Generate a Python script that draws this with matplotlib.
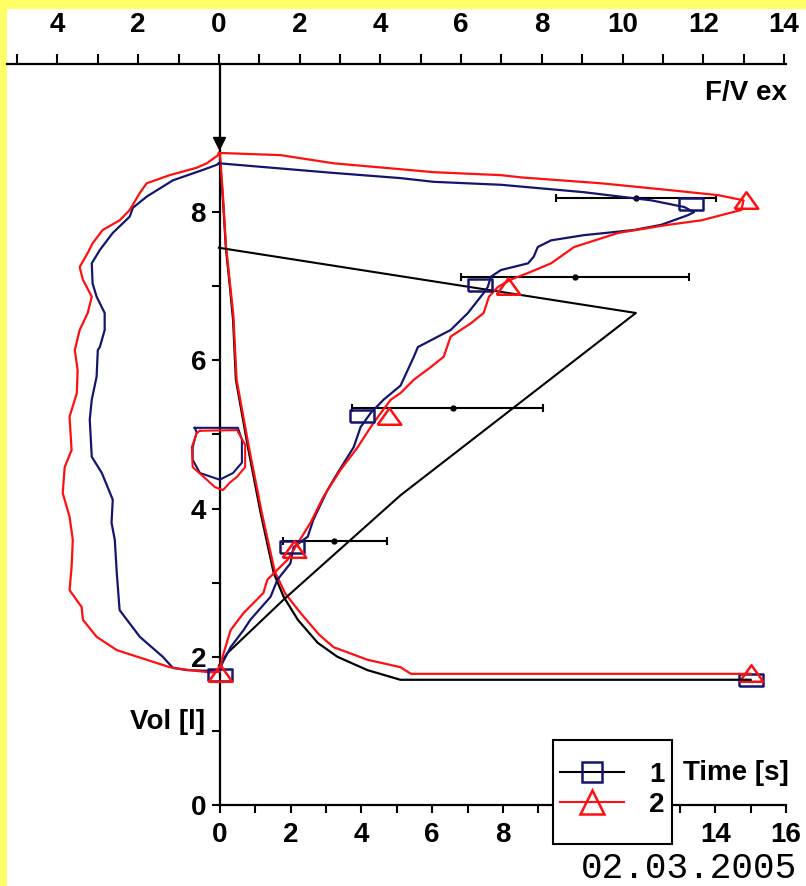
import numpy as np
import matplotlib
matplotlib.use('Agg')
import matplotlib.pyplot as plt
from matplotlib.lines import Line2D
from matplotlib.patches import Rectangle
from matplotlib.ticker import FixedLocator, FuncFormatter

# flow-volume loop, curve 1 (expiration then inspiration)
fv1_flow = [0.0, 2.84, 4.50, 5.32, 6.99, 9.04, 10.71, 11.53, 11.77, 11.62, 10.96, 10.29,
            9.04, 8.23, 7.90, 7.80, 7.66, 6.99, 6.74, 6.66, 6.56, 6.17, 5.74, 4.93, 4.83,
            4.50, 4.08, 3.76, 3.51, 3.34, 2.94, 2.69, 2.34, 2.20, 1.85, 1.77, 1.45, 1.28,
            0.78, 0.61, 0.29, 0.09, 0.0,
            -0.22, -0.79, -1.14, -1.39, -1.96, -2.46, -2.53, -2.58, -2.66, -2.63, -2.90,
            -3.15, -3.20, -3.15, -3.03, -3.00, -2.95, -2.83, -2.83, -3.03, -3.13, -3.15,
            -2.95, -2.63, -2.21, -2.13, -1.79, -1.14, -0.40, -0.05, 0.0]
fv1_vol = [8.66, 8.53, 8.46, 8.41, 8.37, 8.27, 8.16, 8.07, 8.00, 7.96, 7.83, 7.76,
           7.69, 7.62, 7.53, 7.40, 7.31, 7.22, 7.13, 6.99, 6.91, 6.64, 6.41, 6.18, 6.05,
           5.66, 5.47, 5.29, 5.10, 4.83, 4.48, 4.25, 3.85, 3.62, 3.48, 3.26, 3.04, 2.81,
           2.50, 2.36, 2.13, 1.92, 1.80,
           1.81, 1.82, 1.85, 2.00, 2.27, 2.63, 3.13, 3.58, 3.81, 4.12, 4.48,
           4.70, 5.20, 5.47, 5.78, 6.14, 6.18, 6.41, 6.64, 6.86, 7.04, 7.31,
           7.49, 7.72, 7.94, 8.06, 8.21, 8.43, 8.57, 8.64, 8.66]

# flow-volume loop, curve 2
fv2_flow = [0.0, 1.53, 2.84, 4.50, 5.32, 6.99, 7.48, 9.47, 11.13, 12.37, 13.0, 12.94,
            11.95, 11.13, 9.89, 8.80, 8.23, 7.66, 7.23, 6.91, 6.69, 6.56, 6.24, 5.74,
            5.57, 5.25, 4.83, 4.50, 4.26, 4.01, 3.76, 3.44, 3.01, 2.59, 2.27, 1.85, 1.70,
            1.20, 1.10, 0.61, 0.29, 0.09, 0.02,
            -0.22, -0.72, -1.22, -1.79, -2.53, -3.03, -3.37, -3.40, -3.70, -3.65, -3.62,
            -3.70, -3.87, -3.82, -3.65, -3.70, -3.52, -3.50, -3.57, -3.45, -3.25, -3.15,
            -3.37, -3.45, -3.25, -3.13, -2.88, -2.46, -2.21, -1.96, -1.79, -1.22, -0.55,
            -0.30, -0.02, 0.0]
fv2_vol = [8.80, 8.77, 8.66, 8.58, 8.54, 8.50, 8.47, 8.39, 8.30, 8.23, 8.16, 8.03,
           7.89, 7.83, 7.72, 7.53, 7.31, 7.18, 7.09, 6.99, 6.86, 6.64, 6.50, 6.32,
           6.05, 5.91, 5.74, 5.56, 5.47, 5.29, 5.10, 4.83, 4.52, 4.16, 3.81, 3.44, 3.31,
           3.04, 2.86, 2.59, 2.36, 2.00, 1.80,
           1.79, 1.82, 1.86, 1.96, 2.09, 2.27, 2.50, 2.67, 2.90, 3.21, 3.58,
           3.89, 4.21, 4.56, 4.79, 5.24, 5.56, 5.87, 6.14, 6.41, 6.64, 6.86,
           7.09, 7.26, 7.45, 7.58, 7.76, 7.89, 8.03, 8.26, 8.39, 8.50, 8.60,
           8.66, 8.77, 8.80]

# small tidal loops near zero flow
tid1_flow = [-0.60, 0.47, 0.57, 0.57, 0.35, 0.02, -0.47, -0.65, -0.65, -0.55, -0.60]
tid1_vol = [5.09, 5.09, 4.93, 4.62, 4.48, 4.39, 4.48, 4.66, 4.83, 5.03, 5.09]
tid2_flow = [-0.47, 0.45, 0.65, 0.65, 0.45, 0.27, 0.10, -0.10, -0.30, -0.65, -0.67, -0.55, -0.47]
tid2_vol = [5.05, 5.06, 4.86, 4.56, 4.43, 4.35, 4.25, 4.29, 4.39, 4.56, 4.83, 5.02, 5.05]

# volume-time curves
vt1_time = [0.0, 0.08, 0.17, 0.28, 0.37, 0.45, 0.79, 1.15, 1.52, 1.80, 2.20, 2.76, 3.32, 4.17, 5.10, 15.0]
vt1_vol = [8.70, 8.20, 7.50, 7.00, 6.55, 5.74, 4.83, 3.94, 3.13, 2.81, 2.50, 2.19, 2.00, 1.82, 1.69, 1.69]
vt2_time = [0.0, 0.08, 0.17, 0.28, 0.38, 0.47, 0.81, 1.18, 1.55, 1.85, 2.28, 2.80, 3.21, 4.17, 5.10, 5.40, 15.0]
vt2_vol = [8.80, 8.25, 7.55, 7.05, 6.60, 5.74, 4.85, 3.95, 3.15, 2.85, 2.59, 2.30, 2.13, 1.96, 1.86, 1.77, 1.77]

# marked points (PEF, MEF75, MEF50, MEF25, end)
mk1_flow = [11.69, 6.48, 3.55, 1.81, 0.02]
mk1_vol = [8.11, 7.02, 5.25, 3.48, 1.75]
mk2_flow = [13.05, 7.17, 4.22, 1.85, 0.02]
mk2_vol = [8.16, 7.00, 5.25, 3.46, 1.78]
vt_mk_time = [15.0, 15.0]
vt_mk_vol = [1.69, 1.78]

# predicted values with normal ranges
pred_line_flow = [0.0, 10.33, 4.50, 1.60, 0.21, 0.0]
pred_line_vol = [7.52, 6.64, 4.18, 2.77, 2.05, 1.88]
pred_vol = [8.19, 7.13, 5.36, 3.56]
pred_mid = [10.33, 8.82, 5.80, 2.84]
pred_lo = [8.35, 5.99, 3.30, 1.58]
pred_hi = [12.32, 11.65, 8.02, 4.16]

start_flow, start_vol = 0.0, 8.93

W, H = 806, 886
C1 = '#15156e'
C2 = '#ff1010'


def fx(px):
    return px / W


def fy(py):
    return 1 - py / H


plt.rcParams['font.family'] = ['Liberation Sans', 'DejaVu Sans']
plt.rcParams['font.weight'] = 'bold'

fig = plt.figure(figsize=(W / 100, H / 100), dpi=100, facecolor='#ffff66')
fig.add_artist(Rectangle((fx(7), 0), 1 - fx(7), fy(9), transform=fig.transFigure,
                         facecolor='white', edgecolor='none', zorder=-5))

left, right, top, bottom = 7, 786, 64, 805
ax = fig.add_axes([fx(left), fy(bottom), fx(right) - fx(left), fy(top) - fy(bottom)])
ax.patch.set_alpha(0)
ax.set_xlim(-6.02, 16.0)
ax.set_ylim(0, 10)
ax2 = ax.twiny()
ax2.set_xlim(-5.25, 14.05)

for s in ['top', 'right']:
    ax.spines[s].set_visible(False)
for s in ['bottom', 'left', 'right']:
    ax2.spines[s].set_visible(False)
ax.spines['left'].set_position(('data', 0))
ax.spines['bottom'].set_bounds(0, 16)
for s in [ax.spines['left'], ax.spines['bottom'], ax2.spines['top']]:
    s.set_linewidth(1.6)

ax.xaxis.set_major_locator(FixedLocator(range(0, 17, 2)))
ax.xaxis.set_minor_locator(FixedLocator(range(1, 16, 2)))
ax.yaxis.set_major_locator(FixedLocator(range(0, 9, 2)))
ax.yaxis.set_minor_locator(FixedLocator(range(1, 8, 2)))
ax2.xaxis.set_major_locator(FixedLocator(range(-4, 15, 2)))
ax2.xaxis.set_minor_locator(FixedLocator(range(-5, 14, 2)))
ax2.xaxis.set_major_formatter(FuncFormatter(lambda v, p: f"{abs(int(round(v)))}"))

ax.tick_params(axis='x', which='both', direction='out', length=6, width=1.5, pad=6, labelsize=20)
ax.tick_params(axis='y', which='both', direction='out', length=6, width=1.5, pad=4, labelsize=20)
ax2.tick_params(axis='x', which='both', direction='out', length=7, width=1.5, pad=12, labelsize=20)

# flow-volume curves
ax2.plot(pred_line_flow, pred_line_vol, color='k', lw=1.5, zorder=2)
mid = np.array(pred_mid)
ax2.errorbar(pred_mid, pred_vol, xerr=[mid - np.array(pred_lo), np.array(pred_hi) - mid],
             fmt='o', ms=3.5, color='k', elinewidth=1.5, capsize=3, capthick=1.5, zorder=2)
ax2.plot(fv1_flow, fv1_vol, color=C1, lw=1.6, zorder=3)
ax2.plot(fv2_flow, fv2_vol, color=C2, lw=1.6, zorder=3)
ax2.plot(tid1_flow, tid1_vol, color=C1, lw=1.5, zorder=3)
ax2.plot(tid2_flow, tid2_vol, color=C2, lw=1.5, zorder=3)

rect = [(-1, -0.55), (1, -0.55), (1, 0.55), (-1, 0.55), (-1, -0.55)]
tri = [(-1, -0.7), (1, -0.7), (0, 0.7), (-1, -0.7)]
ax2.plot(mk1_flow, mk1_vol, ls='none', marker=rect, ms=17, mfc='none', mec=C1, mew=1.8, zorder=4)
ax2.plot(mk2_flow, mk2_vol, ls='none', marker=tri, ms=17, mfc='none', mec=C2, mew=1.8, zorder=4)

# volume-time curves
ax.plot(vt1_time, vt1_vol, color='k', lw=1.6, zorder=3)
ax.plot(vt2_time, vt2_vol, color=C2, lw=1.6, zorder=3)
ax.plot(vt_mk_time[:1], vt_mk_vol[:1], ls='none', marker=rect, ms=17, mfc='none', mec=C1, mew=1.8)
ax.plot(vt_mk_time[1:], vt_mk_vol[1:], ls='none', marker=tri, ms=17, mfc='none', mec=C2, mew=1.8)
ax2.plot([start_flow], [start_vol], ls='none', marker='v', ms=9, color='k', zorder=5)

fig.text(fx(787), fy(93), 'F/V ex', ha='right', va='center', size=20)
fig.text(fx(205), fy(722), 'Vol [l]', ha='right', va='center', size=20)
fig.text(fx(683), fy(773), 'Time [s]', ha='left', va='center', size=20)
fig.text(fx(797), fy(868), '02.03.2005', ha='right', va='center', size=26,
         family='Liberation Mono', weight='normal')

# legend box drawn over the tick labels, entries placed inside it
fig.add_artist(Rectangle((fx(553), fy(844)), fx(672) - fx(553), fy(740) - fy(844),
                         transform=fig.transFigure, facecolor='white', edgecolor='k',
                         lw=1.5, zorder=4))
h1 = Line2D([], [], color='k', lw=1.5, marker='s', ms=15, mfc='none', mec=C1, mew=1.8)
h2 = Line2D([], [], color=C2, lw=1.5, marker='^', ms=17, mfc='none', mec=C2, mew=1.8)
leg = fig.legend([h1, h2], ['1', '2'], loc='upper left', bbox_to_anchor=(fx(560), fy(762)),
                 frameon=False, prop={'size': 20, 'weight': 'bold'}, handlelength=2.3,
                 handletextpad=0.9, borderpad=0, labelspacing=0.15, borderaxespad=0)
leg.set_zorder(5)

fig.savefig('out.png', dpi=100, facecolor=fig.get_facecolor())
